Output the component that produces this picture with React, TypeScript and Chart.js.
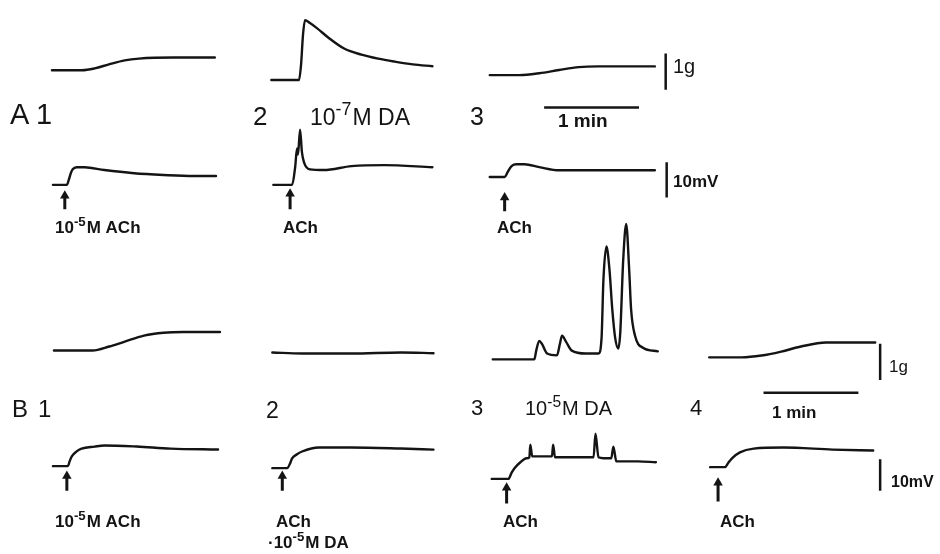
import { useEffect, useRef } from "react";
import { Chart, registerables } from "chart.js";

Chart.register(...registerables);

// ---------- data: time (s, from start of sweep) and deflection ----------
// Row A, tension (g)
const a1TensT = [0, 19, 27, 36, 46, 55, 77, 103];
const a1TensV = [0, 0, 0.05, 0.16, 0.27, 0.32, 0.35, 0.35];
const a2TensT = [0, 17.5, 18.8, 20, 21.3, 24.4, 28.8, 36.3, 46.3, 56.9, 67.5, 77.5, 89.4, 101.9];
const a2TensV = [0, 0, 0.43, 1.24, 1.65, 1.57, 1.43, 1.16, 0.86, 0.7, 0.59, 0.51, 0.43, 0.38];
const a3TensT = [0, 18.8, 31.3, 43.8, 56.3, 68.8, 104.4];
const a3TensV = [0, 0, 0.05, 0.14, 0.22, 0.24, 0.24];
// Row A, membrane potential (mV)
const a1MemT = [0, 8.8, 10, 11.3, 12.5, 15, 20, 32.5, 51.3, 70, 88.8, 103.1];
const a1MemV = [0, 0, 1.4, 3.3, 4.4, 5.0, 5.0, 4.2, 3.3, 2.8, 2.5, 2.5];
const a2MemT = [0, 11.9, 13.8, 15, 15.6, 16.9, 18.1, 19.4, 23.1, 31.9, 49.4, 70, 100.6];
const a2MemV = [0, 0, 5.0, 10.3, 8.6, 15.6, 9.2, 6.4, 4.4, 4.2, 5.3, 5.6, 5.0];
const a3MemT = [0, 9.4, 11.3, 13.8, 16.9, 21.9, 31.3, 43.8, 68.8, 104.4];
const a3MemV = [0, 0, 1.4, 3.1, 3.6, 3.6, 2.8, 1.9, 1.9, 1.9];
// Row B, tension (g)
const b1TensT = [0, 24.4, 35, 44.4, 56.9, 69.4, 81.9, 105];
const b1TensV = [0, 0, 0.11, 0.24, 0.41, 0.49, 0.51, 0.51];
const b2TensT = [0, 18.8, 50, 81.3, 101.9];
const b2TensV = [0, -0.03, -0.03, 0, -0.02];
const b3TensT = [0, 26.3, 27.5, 29.4, 31.3, 34.4, 40.6, 42.5, 43.8, 46.3, 50, 58.8, 66.9, 68.8, 70, 71.9, 73.8, 75.6, 77.5, 79.4, 80.6, 82.5, 84.4, 86.3, 87.5, 90, 95, 104.4];
const b3TensV = [0, 0, 0.24, 0.51, 0.41, 0.16, 0.11, 0.43, 0.65, 0.49, 0.24, 0.16, 0.16, 0.57, 2.19, 3.11, 2.49, 1.38, 0.57, 0.3, 0.7, 2.73, 3.73, 2.46, 1.38, 0.65, 0.32, 0.22];
const b4TensT = [0, 20.6, 33.1, 45.6, 58.1, 73.8, 105];
const b4TensV = [0, 0, 0.05, 0.16, 0.3, 0.41, 0.41];
// Row B, membrane potential (mV)
const b1MemT = [0, 9.4, 10.6, 11.9, 15, 18.1, 26.3, 32.5, 53.1, 74.4, 104.4];
const b1MemV = [0, 0, 1.6, 3.1, 4.7, 5.6, 6.25, 6.6, 6.25, 5.6, 5.3];
const b2MemT = [0, 9.4, 11.3, 12.5, 15.6, 18.8, 29.4, 50, 81.3, 101.9];
const b2MemV = [0, 0, 1.6, 3.1, 4.4, 5.3, 6.6, 6.6, 6.25, 5.9];
const b3MemT = [0, 10.6, 12.5, 14.4, 18.1, 21.9, 23.8, 24.4, 25.6, 33.1, 38.1, 38.8, 40, 48.8, 64.4, 65.6, 67.5, 70.6, 75.6, 76.9, 78.8, 92.5, 103.8];
const b3MemV = [0, 0, 1.9, 3.4, 5.3, 6.6, 6.9, 10.9, 7.2, 7.2, 7.2, 10.9, 6.9, 6.9, 6.9, 14.4, 6.9, 6.6, 6.6, 10.3, 5.6, 5.6, 5.3];
const b4MemT = [0, 9.4, 11.3, 13.8, 18.8, 27.5, 46.3, 77.5, 103.1];
const b4MemV = [0, 0, 1.25, 2.8, 4.7, 5.9, 6.25, 5.6, 5.3];

// ACh application times (s from start of membrane sweep)
const aAchTimes = [7.5, 10.6, 9.4];
const bAchTimes = [8.8, 6.3, 9.4, 5];

// scale bar values
const timeBarSeconds = 60;
const tensionBarG = 1;
const voltageBarMV = 10;

// ---------- layout (positions, sizes) ----------
const PX_PER_S = 1.6;
const ROW_A = { pxPerG: 37, pxPerMV: 3.6 };
const ROW_B = { pxPerG: 37, pxPerMV: 3.2 };

const traceLayout = [
  { t: a1TensT, v: a1TensV, x0: 47, y0: 66, k: ROW_A.pxPerG },
  { t: a2TensT, v: a2TensV, x0: 269, y0: 76, k: ROW_A.pxPerG },
  { t: a3TensT, v: a3TensV, x0: 490, y0: 71, k: ROW_A.pxPerG },
  { t: a1MemT, v: a1MemV, x0: 48, y0: 183, k: ROW_A.pxPerMV },
  { t: a2MemT, v: a2MemV, x0: 271, y0: 183, k: ROW_A.pxPerMV },
  { t: a3MemT, v: a3MemV, x0: 490, y0: 175, k: ROW_A.pxPerMV },
  { t: b1TensT, v: b1TensV, x0: 49, y0: 352, k: ROW_B.pxPerG },
  { t: b2TensT, v: b2TensV, x0: 270, y0: 354, k: ROW_B.pxPerG },
  { t: b3TensT, v: b3TensV, x0: 493, y0: 361, k: ROW_B.pxPerG },
  { t: b4TensT, v: b4TensV, x0: 712, y0: 359, k: ROW_B.pxPerG },
  { t: b1MemT, v: b1MemV, x0: 48, y0: 470, k: ROW_B.pxPerMV },
  { t: b2MemT, v: b2MemV, x0: 270, y0: 472, k: ROW_B.pxPerMV },
  { t: b3MemT, v: b3MemV, x0: 492, y0: 483, k: ROW_B.pxPerMV },
  { t: b4MemT, v: b4MemV, x0: 713, y0: 471, k: ROW_B.pxPerMV },
];

const arrowLayout = [
  { x0: 48, t: aAchTimes[0], top: 189, bottom: 208 },
  { x0: 271, t: aAchTimes[1], top: 187, bottom: 208 },
  { x0: 490, t: aAchTimes[2], top: 191, bottom: 210 },
  { x0: 48, t: bAchTimes[0], top: 475, bottom: 495 },
  { x0: 270, t: bAchTimes[1], top: 475, bottom: 495 },
  { x0: 492, t: bAchTimes[2], top: 487, bottom: 508 },
  { x0: 713, t: bAchTimes[3], top: 482, bottom: 506 },
];

const timeBars = [
  { x0: 545, y: 104 },
  { x0: 767, y: 395 },
];
const verticalBars = [
  { x: 668, y0: 86, k: ROW_A.pxPerG, val: tensionBarG },
  { x: 669, y0: 196, k: ROW_A.pxPerMV, val: voltageBarMV },
  { x: 885, y0: 382, k: ROW_B.pxPerG, val: tensionBarG },
  { x: 885, y0: 495, k: ROW_B.pxPerMV, val: voltageBarMV },
];

type Part = [string, boolean];
const FONT = '"Liberation Sans", Arial, sans-serif';
const textLayout: { parts: Part[]; x: number; y: number; size: number; bold?: boolean }[] = [
  { parts: [["A", false]], x: 10, y: 124, size: 29 },
  { parts: [["1", false]], x: 36, y: 124, size: 29 },
  { parts: [["2", false]], x: 253, y: 125, size: 26 },
  { parts: [["10", false], ["-7", true], ["M DA", false]], x: 310, y: 125, size: 23 },
  { parts: [["3", false]], x: 470, y: 125, size: 25 },
  { parts: [["1 min", false]], x: 558, y: 127, size: 19, bold: true },
  { parts: [["1g", false]], x: 673, y: 73, size: 20 },
  { parts: [["10mV", false]], x: 673, y: 187, size: 17, bold: true },
  { parts: [["10", false], ["-5", true], ["M ACh", false]], x: 55, y: 233, size: 17, bold: true },
  { parts: [["ACh", false]], x: 283, y: 233, size: 17, bold: true },
  { parts: [["ACh", false]], x: 497, y: 233, size: 17, bold: true },
  { parts: [["B", false]], x: 12, y: 417, size: 24 },
  { parts: [["1", false]], x: 38, y: 417, size: 24 },
  { parts: [["2", false]], x: 266, y: 418, size: 23 },
  { parts: [["3", false]], x: 471, y: 415, size: 22 },
  { parts: [["10", false], ["-5", true], ["M DA", false]], x: 525, y: 415, size: 20 },
  { parts: [["4", false]], x: 690, y: 415, size: 22 },
  { parts: [["1 min", false]], x: 772, y: 418, size: 17, bold: true },
  { parts: [["1g", false]], x: 889, y: 372, size: 17 },
  { parts: [["10mV", false]], x: 891, y: 487, size: 16, bold: true },
  { parts: [["10", false], ["-5", true], ["M ACh", false]], x: 55, y: 527, size: 17, bold: true },
  { parts: [["ACh", false]], x: 276, y: 527, size: 17, bold: true },
  { parts: [["·10", false], ["-5", true], ["M DA", false]], x: 268, y: 548, size: 17, bold: true },
  { parts: [["ACh", false]], x: 503, y: 527, size: 17, bold: true },
  { parts: [["ACh", false]], x: 720, y: 527, size: 17, bold: true },
];

const INK = "#141414";

const textPlugin = {
  id: "figureText",
  beforeDraw(chart: any) {
    const ctx = chart.ctx;
    ctx.save();
    ctx.fillStyle = "#ffffff";
    ctx.fillRect(0, 0, chart.width, chart.height);
    ctx.restore();
  },
  afterDraw(chart: any) {
    const ctx = chart.ctx;
    ctx.save();
    ctx.fillStyle = INK;
    ctx.textBaseline = "alphabetic";
    ctx.textAlign = "left";
    for (const item of textLayout) {
      let x = item.x;
      const weight = item.bold ? "bold " : "";
      for (const [str, sup] of item.parts) {
        const size = sup ? item.size * 0.78 : item.size;
        ctx.font = `${weight}${size}px ${FONT}`;
        const y = sup ? item.y - item.size * 0.42 : item.y;
        ctx.fillText(str, x, y);
        x += ctx.measureText(str).width + (sup ? 1 : 0);
      }
    }
    ctx.restore();
  },
};

export default function App() {
  const ref = useRef<HTMLCanvasElement | null>(null);

  useEffect(() => {
    if (!ref.current) return;
    const datasets: any[] = [];

    for (const tr of traceLayout) {
      datasets.push({
        data: tr.t.map((t, i) => ({ x: tr.x0 + t * PX_PER_S, y: tr.y0 - tr.v[i] * tr.k })),
        showLine: true,
        borderColor: INK,
        borderWidth: 2.4,
        pointRadius: 0,
        cubicInterpolationMode: "monotone",
        borderCapStyle: "round",
        borderJoinStyle: "round",
      });
    }
    for (const ar of arrowLayout) {
      const x = ar.x0 + ar.t * PX_PER_S;
      datasets.push({
        data: [
          { x, y: ar.bottom },
          { x, y: ar.top + 5 },
        ],
        showLine: true,
        borderColor: INK,
        borderWidth: 3,
        pointRadius: [0, 5.5],
        pointStyle: "triangle",
        pointBackgroundColor: INK,
        pointBorderColor: INK,
        pointBorderWidth: 0,
      });
    }
    for (const tb of timeBars) {
      datasets.push({
        data: [
          { x: tb.x0, y: tb.y },
          { x: tb.x0 + timeBarSeconds * PX_PER_S, y: tb.y },
        ],
        showLine: true,
        borderColor: INK,
        borderWidth: 2.5,
        pointRadius: 0,
      });
    }
    for (const vb of verticalBars) {
      datasets.push({
        data: [
          { x: vb.x, y: vb.y0 },
          { x: vb.x, y: vb.y0 - vb.val * vb.k },
        ],
        showLine: true,
        borderColor: INK,
        borderWidth: 2.5,
        pointRadius: 0,
      });
    }

    const chart = new Chart(ref.current, {
      type: "scatter",
      data: { datasets },
      options: {
        animation: false,
        responsive: false,
        devicePixelRatio: 1,
        layout: { padding: 0 },
        plugins: { legend: { display: false }, tooltip: { enabled: false } },
        events: [],
        scales: {
          x: { type: "linear", min: 0, max: 940, display: false },
          y: { type: "linear", min: 0, max: 554, reverse: true, display: false },
        },
      },
      plugins: [textPlugin],
    } as any);
    return () => chart.destroy();
  }, []);

  return (
    <div style={{ position: "fixed", left: 0, top: 0, width: 940, height: 554, background: "#fff" }}>
      <canvas ref={ref} width={940} height={554} style={{ display: "block" }} />
    </div>
  );
}
